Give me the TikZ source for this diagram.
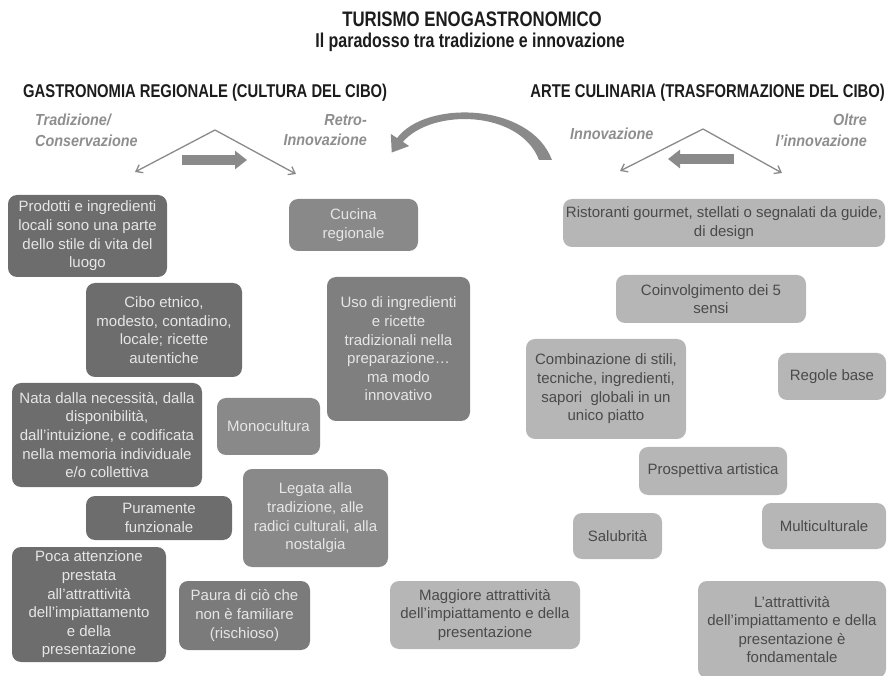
\documentclass[tikz,border=0pt]{standalone}
\usepackage{fontspec}
\setmainfont{Liberation Sans}
\newfontfamily\narrowfont{Liberation Sans}[FakeStretch=0.8]
\newfontfamily\labelfont{Liberation Sans}[FakeStretch=0.9]
\usetikzlibrary{arrows.meta}

\definecolor{dkfill}{HTML}{6D6D6D}
\definecolor{mdfill}{HTML}{898989}
\definecolor{ltfill}{HTML}{B6B6B6}
\definecolor{palefg}{HTML}{E6E6E6}
\definecolor{darkfg}{HTML}{4A4A4A}
\definecolor{labelgray}{HTML}{8E8E8E}
\definecolor{arrowgray}{HTML}{8A8A8A}
\definecolor{titleink}{HTML}{1C1C1C}

\tikzset{
  box/.style={rounded corners=9pt, inner sep=0pt, align=center,
    font=\fontsize{15}{18.6}\selectfont},
  dk/.style={box, fill=dkfill, text=palefg},
  md/.style={box, fill=mdfill, text=palefg},
  lt/.style={box, fill=ltfill, text=darkfg},
  bx/.style 2 args={minimum width=#1pt, minimum height=#2pt},
  title/.style={text=titleink, inner sep=0pt, font=\narrowfont\bfseries\fontsize{21}{24}\selectfont},
  header/.style={text=titleink, inner sep=0pt, font=\narrowfont\bfseries\fontsize{18.5}{22}\selectfont},
  side/.style={text=labelgray, inner sep=0pt,
    font=\labelfont\bfseries\itshape\fontsize{16}{20.5}\selectfont},
  thin/.style={draw=arrowgray, line width=1.3pt, -{Straight Barb[length=6pt,width=9pt]}},
  block/.style={draw=arrowgray, line width=10pt, -{Triangle[length=12pt,width=18pt]}},
}

\begin{document}
\begin{tikzpicture}[x=1pt, y=-1pt]
\useasboundingbox (0,0) rectangle (887,676);

% Titles
\node[title] (t1) at (472,19) {TURISMO ENOGASTRONOMICO};
\node[title, font=\narrowfont\bfseries\fontsize{20}{24}\selectfont] (t2) at (470,42) {Il paradosso tra tradizione e innovazione};
\node[header, anchor=west] (hleft) at (23,93) {GASTRONOMIA REGIONALE (CULTURA DEL CIBO)};
\node[header, anchor=east] (hright) at (885,93) {ARTE CULINARIA (TRASFORMAZIONE DEL CIBO)};

% Side labels
\node[side, anchor=north west, align=left] (trad) at (35,114) {Tradizione/\\Conservazione};
\node[side, anchor=north east, align=right] (retro) at (367,114) {Retro-\\Innovazione};
\node[side, anchor=west] (innov) at (570,134) {Innovazione};
\node[side, anchor=north east, align=right] (oltre) at (867,114) {Oltre\\l’innovazione};

% Branching arrows, left
\coordinate (lapex) at (215,130);
\coordinate (lend1) at (135,172);
\coordinate (lend2) at (296,174);
\draw[thin] (lapex) -- (lend1);
\draw[thin] (lapex) -- (lend2);
\coordinate (lbs) at (182,160);
\coordinate (lbe) at (247,160);
\draw[block] (lbs) -- (lbe);

% Branching arrows, right
\coordinate (rapex) at (703,129);
\coordinate (rend1) at (620,171);
\coordinate (rend2) at (782,173);
\draw[thin] (rapex) -- (rend1);
\draw[thin] (rapex) -- (rend2);
\coordinate (rbs) at (734,159);
\coordinate (rbe) at (668,159);
\draw[block] (rbs) -- (rbe);

% Curved arrow between the two sides: a tapering shaft with a triangular head
\fill[arrowgray]
  (552,160) .. controls (530,102) and (425,100) .. (397.1,138.1)
  -- (390.8,133.95) -- (391.75,152.5) -- (409.2,146.05) -- (402.9,141.9)
  .. controls (432,108) and (520,110) .. (539,160) -- cycle;

% Left column: gastronomia regionale
\node[dk, bx={159}{82}] (prodotti) at (87.5,236)
  {Prodotti e ingredienti\\locali sono una parte\\dello stile di vita del\\luogo};
\node[md, bx={129}{52}] (cucina) at (353.5,225) {Cucina\\regionale};
\node[dk, bx={156}{94}] (cibo) at (164,330)
  {Cibo etnico,\\modesto, contadino,\\locale; ricette\\autentiche};
\node[md, fill=mdfill!93!black, bx={143}{144}] (uso) at (398.5,349)
  {Uso di ingredienti\\e ricette\\tradizionali nella\\preparazione…\\ma modo\\innovativo};
\node[dk, bx={190}{104}] (nata) at (107,435)
  {Nata dalla necessità, dalla\\disponibilità,\\dall’intuizione, e codificata\\nella memoria individuale\\e/o collettiva};
\node[md, bx={103}{57}] (mono) at (268.5,426.5) {Monocultura};
\node[dk, bx={146}{44}] (puramente) at (159,518) {Puramente\\funzionale};
\node[md, bx={145}{98}] (legata) at (315.5,518)
  {Legata alla\\tradizione, alle\\radici culturali, alla\\nostalgia};
\node[dk, bx={154}{115}] (poca) at (89,604.5)
  {Poca attenzione\\prestata\\all’attrattività\\dell’impiattamento\\e della\\presentazione};
\node[md, fill=mdfill!90!black, bx={131}{69}] (paura) at (244.5,615.5)
  {Paura di ciò che\\non è familiare\\(rischioso)};

% Right column: arte culinaria
\node[lt, bx={190}{68}] (maggiore) at (485,615)
  {Maggiore attrattività\\dell’impiattamento e della\\presentazione};
\node[lt, bx={322}{48}] (ristoranti) at (724,223)
  {Ristoranti gourmet, stellati o segnalati da guide,\\di design};
\node[lt, bx={190}{48}] (coinv) at (711,299) {Coinvolgimento dei 5\\sensi};
\node[lt, bx={160}{100}] (combi) at (606,389)
  {Combinazione di stili,\\tecniche, ingredienti,\\sapori\ \ globali in un\\unico piatto};
\node[lt, bx={108}{47}] (regole) at (832,376.5) {Regole base};
\node[lt, bx={148}{48}] (prosp) at (713,471) {Prospettiva artistica};
\node[lt, bx={89}{46}] (salub) at (617.5,536) {Salubrità};
\node[lt, bx={124}{46}] (multi) at (824,526) {Multiculturale};
\node[lt, bx={188}{97}] (attratt) at (792,629.5)
  {L’attrattività\\dell’impiattamento e della\\presentazione è\\fondamentale};
\end{tikzpicture}
\end{document}
